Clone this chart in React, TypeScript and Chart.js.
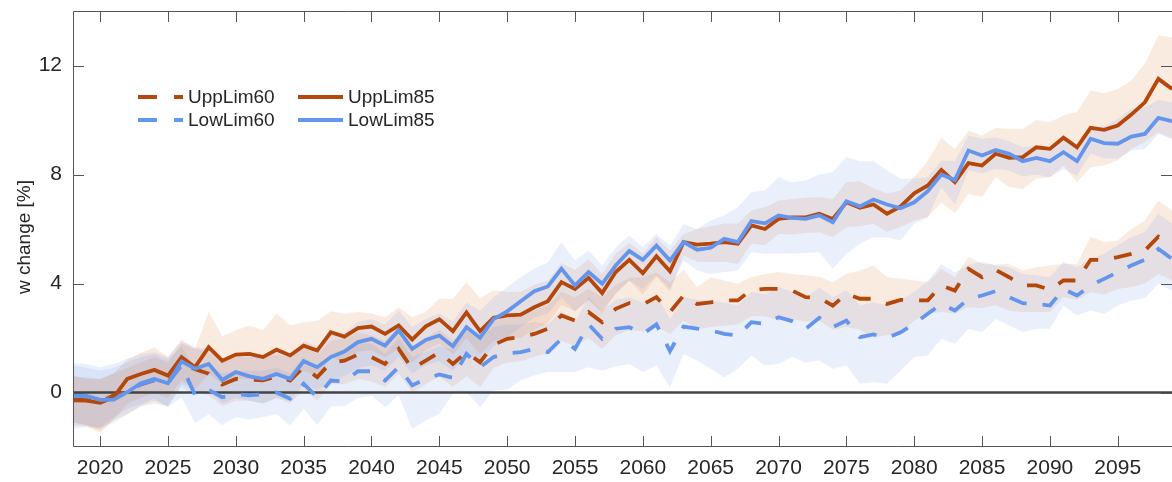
import React, { useEffect, useRef } from "react";
import { Chart, registerables } from "chart.js";

Chart.register(...registerables);

// ---------- data ----------
const years: number[] = Array.from({ length: 82 }, (_, i) => 2018 + i);
const xTickValues = [2020, 2025, 2030, 2035, 2040, 2045, 2050, 2055, 2060, 2065, 2070, 2075, 2080, 2085, 2090, 2095];
const yTickValues = [0, 4, 8, 12];

const uppLim60 = [
  -0.25, -0.28, -0.35, -0.10, 0.05, 0.30, 0.45, 0.35, 1.10, 0.85,
  0.69, 0.29, 0.50, 0.47, 0.45, 0.59, 0.44, 0.93, 0.56, 1.10,
  1.17, 1.39, 1.30, 1.05, 1.60, 0.87, 1.17, 1.48, 1.05, 1.48,
  1.11, 1.75, 1.97, 2.03, 2.15, 2.34, 2.83, 2.64, 2.95, 2.58,
  3.07, 3.28, 3.23, 3.50, 2.95, 3.56, 3.25, 3.31, 3.38, 3.38,
  3.77, 3.80, 3.80, 3.74, 3.50, 3.47, 3.19, 3.62, 3.44, 3.44,
  3.25, 3.40, 3.38, 3.38, 3.93, 3.74, 4.54, 4.23, 4.50, 4.23,
  3.93, 3.93, 3.77, 4.11, 4.11, 4.87, 4.87, 4.97, 5.09, 5.21,
  5.72, 5.48,
];
const lowLim60 = [
  -0.10, -0.15, -0.25, -0.20, 0.00, 0.30, 0.45, 0.35, 1.00, -0.10,
  0.10, -0.17, -0.07, -0.10, -0.07, 0.00, -0.23, 0.32, -0.17, 0.44,
  0.40, 0.78, 0.78, 0.44, 0.93, 0.26, 0.50, 0.66, 0.54, 1.42,
  0.93, 1.30, 1.44, 1.48, 1.60, 1.48, 1.97, 1.60, 2.50, 1.97,
  2.34, 2.40, 2.15, 2.50, 1.52, 2.42, 2.34, 2.28, 2.15, 2.09,
  2.58, 2.52, 2.76, 2.62, 2.34, 2.74, 2.40, 2.64, 2.03, 2.13,
  2.00, 2.21, 2.52, 2.89, 3.25, 3.01, 3.44, 3.56, 3.72, 3.50,
  3.28, 3.25, 3.19, 3.80, 3.56, 3.93, 4.17, 4.42, 4.66, 4.87,
  5.27, 4.90,
];
const uppLim85 = [
  -0.29, -0.30, -0.38, -0.17, 0.50, 0.68, 0.83, 0.62, 1.30, 0.93,
  1.66, 1.17, 1.39, 1.42, 1.30, 1.57, 1.36, 1.72, 1.54, 2.21,
  2.05, 2.36, 2.42, 2.15, 2.46, 1.94, 2.43, 2.69, 2.25, 2.94,
  2.25, 2.74, 2.83, 2.86, 3.13, 3.35, 4.05, 3.80, 4.21, 3.65,
  4.42, 4.87, 4.38, 5.00, 4.45, 5.52, 5.43, 5.46, 5.52, 5.46,
  6.13, 6.00, 6.37, 6.43, 6.43, 6.56, 6.37, 6.98, 6.78, 6.90,
  6.56, 6.83, 7.31, 7.60, 8.17, 7.72, 8.42, 8.33, 8.76, 8.61,
  8.64, 9.00, 8.94, 9.35, 9.00, 9.71, 9.64, 9.80, 10.20, 10.65,
  11.51, 11.14,
];
const lowLim85 = [
  -0.11, -0.12, -0.27, -0.26, 0.01, 0.34, 0.50, 0.34, 1.14, 0.87,
  1.05, 0.46, 0.75, 0.59, 0.50, 0.68, 0.50, 1.15, 0.93, 1.30,
  1.50, 1.85, 1.97, 1.72, 2.28, 1.60, 1.93, 2.09, 1.70, 2.40,
  2.01, 2.69, 2.98, 3.35, 3.72, 3.89, 4.54, 3.93, 4.42, 3.99,
  4.66, 5.19, 4.87, 5.39, 4.84, 5.52, 5.24, 5.31, 5.64, 5.52,
  6.29, 6.21, 6.50, 6.41, 6.37, 6.50, 6.25, 7.02, 6.83, 7.08,
  6.90, 6.76, 6.98, 7.39, 8.00, 7.80, 8.88, 8.70, 8.90, 8.76,
  8.49, 8.61, 8.49, 8.82, 8.49, 9.31, 9.15, 9.13, 9.39, 9.49,
  10.08, 9.96,
];

// ensemble spread bands (upper / lower edges)
const uppLim60Hi = [
  0.6, 0.55, 0.5, 0.7, 0.9, 1.1, 1.3, 1.1, 1.8, 1.6,
  1.5, 1.1, 1.3, 1.3, 1.3, 1.4, 1.3, 1.8, 1.4, 1.9,
  2.0, 2.2, 2.1, 1.9, 2.4, 1.7, 2.0, 2.3, 1.9, 2.3,
  2.0, 2.6, 2.8, 2.9, 3.0, 3.2, 3.7, 3.5, 3.8, 3.5,
  3.95, 4.2, 4.23, 4.4, 4.05, 4.5, 3.87, 4.23, 4.11, 3.99,
  4.23, 4.35, 4.42, 4.35, 4.3, 4.25, 4.05, 4.35, 4.48, 4.66,
  4.23, 4.17, 4.11, 4.05, 4.54, 4.23, 4.97, 4.72, 4.7, 4.72,
  4.48, 4.6, 4.66, 4.72, 4.72, 5.72, 5.52, 5.58, 6.0, 6.31,
  7.05, 6.68,
];
const uppLim60Lo = [
  -1.1, -1.2, -1.4, -1.0, -0.8, -0.5, -0.4, -0.5, 0.3, 0.1,
  -0.1, -0.5, -0.3, -0.3, -0.4, -0.2, -0.4, 0.1, -0.3, 0.3,
  0.3, 0.5, 0.4, 0.2, 0.7, 0.0, 0.3, 0.6, 0.2, 0.6,
  0.2, 0.9, 1.1, 1.15, 1.3, 1.45, 1.9, 1.7, 2.0, 1.6,
  2.1, 2.28, 2.25, 2.4, 2.15, 2.64, 2.3, 2.4, 2.45, 2.5,
  2.8, 2.8, 2.64, 2.7, 2.6, 2.64, 2.3, 2.4, 2.3, 2.03,
  2.1, 2.15, 2.64, 2.89, 2.95, 2.9, 3.13, 3.1, 3.2, 3.0,
  2.95, 2.95, 2.95, 3.5, 3.4, 3.68, 3.6, 3.8, 3.87, 4.0,
  4.35, 4.11,
];
const lowLim60Hi = [
  1.0, 0.9, 0.8, 0.9, 1.1, 1.3, 1.4, 1.2, 1.7, 0.9,
  1.0, 0.7, 0.8, 0.8, 0.8, 0.9, 0.7, 1.3, 0.9, 1.4,
  1.4, 1.8, 1.8, 1.4, 2.0, 1.3, 1.5, 1.7, 1.6, 2.5,
  2.0, 2.4, 2.5, 2.5, 2.6, 2.5, 3.0, 2.6, 3.5, 3.0,
  3.4, 3.5, 3.3, 3.6, 2.7, 3.5, 3.4, 3.35, 3.3, 3.2,
  3.7, 3.6, 3.87, 3.7, 3.5, 3.85, 3.5, 3.75, 3.2, 3.3,
  3.2, 3.4, 3.7, 4.1, 4.72, 4.4, 4.7, 4.8, 4.66, 4.6,
  4.35, 4.3, 4.23, 4.8, 4.6, 4.9, 5.09, 5.4, 5.7, 5.9,
  6.56, 6.19,
];
const lowLim60Lo = [
  -1.33, -1.27, -1.3, -0.9, -0.6, -0.42, -0.23, -0.54, -0.17, -1.13,
  -0.8, -1.2, -0.9, -1.0, -0.9, -0.8, -1.2, -0.6, -1.2, -0.5,
  -0.5, -0.2, -0.11, -0.54, -0.1, -1.33, -1.03, -0.78, -0.05, 0.0,
  -0.54, 0.07, 0.1, 0.44, 0.62, 0.75, 0.75, 0.75, 0.93, 0.81,
  0.95, 1.05, 0.75, 0.99, 0.17, 1.42, 1.17, 0.87, 0.56, 0.87,
  1.36, 0.99, 1.05, 1.3, 1.1, 1.17, 0.87, 1.0, 0.32, 0.38,
  0.32, 0.8, 1.3, 1.36, 1.97, 1.79, 2.34, 2.21, 2.7, 2.46,
  2.21, 2.34, 2.34, 3.19, 2.83, 3.01, 2.89, 3.19, 3.38, 3.47,
  3.99, 3.74,
];
const uppLim85Hi = [
  0.6, 0.5, 0.5, 0.7, 1.2, 1.45, 1.66, 1.3, 1.94, 1.61,
  2.95, 2.06, 2.28, 2.46, 2.28, 2.9, 2.46, 2.58, 2.63, 2.98,
  2.89, 2.95, 2.9, 2.76, 3.13, 2.76, 2.95, 3.44, 3.44, 4.05,
  3.47, 3.74, 3.7, 3.7, 3.95, 4.1, 4.75, 4.5, 4.9, 4.35,
  5.1, 5.5, 5.1, 5.7, 5.2, 5.82, 6.0, 6.1, 6.2, 6.2,
  6.68, 6.8, 7.05, 7.1, 7.15, 7.17, 7.1, 7.72, 7.75, 7.5,
  7.3, 7.41, 7.9, 8.51, 9.35, 8.94, 9.61, 9.43, 9.71, 9.68,
  9.68, 10.0, 9.92, 10.17, 10.29, 11.08, 10.98, 11.14, 11.45, 12.06,
  13.1, 13.04,
];
const uppLim85Lo = [
  -1.2, -1.25, -1.49, -1.0, -0.4, -0.2, 0.0, -0.2, 0.45, 0.1,
  0.7, 0.3, 0.5, 0.5, 0.45, 0.6, 0.45, 0.8, 0.6, 1.3,
  1.1, 1.5, 1.55, 1.3, 1.6, 1.1, 1.55, 1.8, 1.4, 2.0,
  1.4, 1.9, 2.0, 2.0, 2.3, 2.55, 3.2, 3.0, 3.4, 2.9,
  3.65, 4.1, 3.6, 4.25, 3.7, 5.03, 4.8, 4.78, 4.8, 4.72,
  5.46, 5.4, 5.82, 5.8, 5.85, 5.88, 5.7, 6.07, 6.1, 6.19,
  5.9, 6.07, 6.31, 6.43, 6.98, 6.58, 7.29, 7.17, 7.9, 7.54,
  7.47, 7.84, 7.9, 8.33, 7.72, 8.27, 8.33, 8.51, 8.94, 9.19,
  9.55, 9.31,
];
const lowLim85Hi = [
  1.08, 1.05, 0.93, 1.05, 1.24, 1.42, 1.48, 1.3, 1.88, 1.66,
  1.6, 1.2, 1.4, 1.35, 1.3, 1.45, 1.3, 1.9, 1.7, 2.1,
  2.2, 2.6, 2.7, 2.5, 3.0, 2.4, 2.7, 2.9, 2.6, 3.3,
  3.0, 3.5, 3.87, 4.23, 4.54, 4.78, 5.52, 4.84, 5.21, 4.66,
  5.33, 5.76, 5.33, 5.82, 5.39, 6.17, 6.0, 6.31, 6.5, 6.8,
  7.35, 7.41, 7.9, 7.72, 7.78, 8.0, 8.09, 8.64, 8.49, 8.49,
  8.15, 7.84, 7.85, 7.9, 8.51, 8.5, 9.43, 9.31, 9.37, 9.22,
  9.0, 9.06, 9.0, 9.37, 9.0, 9.68, 9.74, 10.04, 10.41, 10.47,
  10.74, 10.65,
];
const lowLim85Lo = [
  -1.1, -1.2, -1.3, -1.1, -0.8, -0.5, -0.3, -0.5, 0.2, -0.1,
  0.1, -0.4, -0.2, -0.3, -0.4, -0.2, -0.3, 0.3, 0.1, 0.4,
  0.6, 0.9, 1.0, 0.8, 1.3, 0.7, 1.0, 1.15, 0.8, 1.4,
  1.1, 1.7, 2.0, 2.4, 2.75, 2.9, 3.5, 2.95, 3.4, 3.0,
  3.6, 4.1, 3.8, 4.3, 3.8, 4.84, 4.48, 4.35, 4.42, 4.48,
  5.15, 5.09, 5.1, 5.1, 5.12, 5.15, 4.54, 5.09, 5.46, 5.7,
  5.7, 5.58, 6.19, 6.43, 7.54, 6.9, 8.15, 8.05, 8.2, 8.15,
  7.93, 8.0, 7.9, 8.2, 7.95, 8.76, 8.6, 8.58, 8.88, 8.94,
  9.49, 9.31,
];

// ---------- styles ----------
const ORANGE = "#B5470B";
const BLUE = "#6495ED";
const ORANGE_FILL = "rgba(222, 110, 40, 0.14)";
const BLUE_FILL = "rgba(100, 149, 237, 0.14)";
const DASH = [18, 16];
const FONT = "'Liberation Sans', Arial, Helvetica, sans-serif";
const TEXT = "#262626";
const AXIS = "#555555";

const pts = (arr: number[]) => arr.map((v, i) => ({ x: years[i], y: v }));

const lineDs = (label: string, data: number[], color: string, dashed: boolean, order: number) => ({
  label,
  data: pts(data),
  borderColor: color,
  backgroundColor: color,
  borderWidth: 3.8,
  borderDash: dashed ? DASH : [],
  borderJoinStyle: "miter" as const,
  pointRadius: 0,
  tension: 0,
  fill: false,
  order,
});

const bandDs = (hi: number[], lo: number[], fillColor: string) => [
  {
    label: "",
    data: pts(hi),
    borderWidth: 0,
    borderColor: "rgba(0,0,0,0)",
    backgroundColor: fillColor,
    pointRadius: 0,
    tension: 0,
    fill: "+1",
    order: 10,
  },
  {
    label: "",
    data: pts(lo),
    borderWidth: 0,
    borderColor: "rgba(0,0,0,0)",
    backgroundColor: "rgba(0,0,0,0)",
    pointRadius: 0,
    tension: 0,
    fill: false,
    order: 10,
  },
];

const decorPlugin = {
  id: "decor",
  beforeDatasetDraw(chart: any, args: any) {
    if (args.index !== 3) return;
    const { ctx, chartArea } = chart;
    const y0 = chart.scales.y.getPixelForValue(0);
    ctx.save();
    ctx.strokeStyle = "#444444";
    ctx.lineWidth = 2.5;
    ctx.beginPath();
    ctx.moveTo(chartArea.left, y0);
    ctx.lineTo(chartArea.right, y0);
    ctx.stroke();
    ctx.restore();
  },
  afterDraw(chart: any) {
    const { ctx, chartArea } = chart;
    const { left, right, top, bottom } = chartArea;
    const xs = chart.scales.x;
    const ys = chart.scales.y;
    ctx.save();
    ctx.strokeStyle = AXIS;
    ctx.lineWidth = 1;
    ctx.beginPath();
    ctx.rect(left + 0.5, top + 0.5, right - left, bottom - top - 1);
    ctx.stroke();
    const TL = 11;
    ctx.beginPath();
    xTickValues.forEach((v) => {
      const px = Math.round(xs.getPixelForValue(v)) + 0.5;
      ctx.moveTo(px, bottom);
      ctx.lineTo(px, bottom - TL);
      ctx.moveTo(px, top);
      ctx.lineTo(px, top + TL);
    });
    yTickValues.forEach((v) => {
      const py = Math.round(ys.getPixelForValue(v)) + 0.5;
      ctx.moveTo(left, py);
      ctx.lineTo(left + TL, py);
      ctx.moveTo(right, py);
      ctx.lineTo(right - TL, py);
    });
    ctx.stroke();

    // y-axis title
    ctx.fillStyle = TEXT;
    ctx.font = `19px ${FONT}`;
    ctx.textAlign = "center";
    ctx.textBaseline = "middle";
    ctx.save();
    ctx.translate(25, 237);
    ctx.rotate(-Math.PI / 2);
    ctx.fillText("w change [%]", 0, 0);
    ctx.restore();

    // legend (two columns)
    const ds = chart.data.datasets;
    const slots = [
      { i: 3, x: 138, y: 97 },
      { i: 2, x: 138, y: 120 },
      { i: 1, x: 298, y: 97 },
      { i: 0, x: 298, y: 120 },
    ];
    slots.forEach((s) => {
      const d = ds[s.i];
      ctx.save();
      ctx.strokeStyle = d.borderColor;
      ctx.lineWidth = 3.8;
      ctx.setLineDash(d.borderDash && d.borderDash.length ? [19, 17] : []);
      ctx.beginPath();
      ctx.moveTo(s.x, s.y);
      ctx.lineTo(s.x + 45, s.y);
      ctx.stroke();
      ctx.restore();
      ctx.fillStyle = TEXT;
      ctx.font = `19px ${FONT}`;
      ctx.textAlign = "left";
      ctx.textBaseline = "middle";
      ctx.fillText(d.label, s.x + 50, s.y + 1);
    });
    ctx.restore();
  },
};

export default function App() {
  const canvasRef = useRef<HTMLCanvasElement | null>(null);

  useEffect(() => {
    if (!canvasRef.current) return;
    Chart.defaults.font.family = FONT;
    const chart = new Chart(canvasRef.current, {
      type: "line",
      data: {
        datasets: [
          lineDs("LowLim85", lowLim85, BLUE, false, 0),
          lineDs("UppLim85", uppLim85, ORANGE, false, 1),
          lineDs("LowLim60", lowLim60, BLUE, true, 2),
          lineDs("UppLim60", uppLim60, ORANGE, true, 3),
          ...bandDs(lowLim85Hi, lowLim85Lo, BLUE_FILL),
          ...bandDs(uppLim85Hi, uppLim85Lo, ORANGE_FILL),
          ...bandDs(lowLim60Hi, lowLim60Lo, BLUE_FILL),
          ...bandDs(uppLim60Hi, uppLim60Lo, ORANGE_FILL),
        ] as any,
      },
      options: {
        animation: false,
        responsive: true,
        maintainAspectRatio: false,
        layout: { padding: { top: 11, right: 0, left: 0, bottom: 0 } },
        plugins: {
          legend: { display: false },
          tooltip: { enabled: false },
          filler: { propagate: false },
        },
        scales: {
          x: {
            type: "linear",
            min: 2018,
            max: 2099,
            grid: { display: false, drawTicks: false },
            border: { display: false },
            afterBuildTicks: (s: any) => {
              s.ticks = xTickValues.map((v) => ({ value: v }));
            },
            afterFit: (s: any) => {
              s.height = 35;
              s.paddingLeft = 0;
              s.paddingRight = 0;
            },
            ticks: {
              autoSkip: false,
              maxRotation: 0,
              padding: 9,
              color: TEXT,
              font: { size: 21, family: FONT },
              callback: (v: any) => String(v),
            },
          },
          y: {
            type: "linear",
            min: -2,
            max: 14,
            grid: { display: false, drawTicks: false },
            border: { display: false },
            afterBuildTicks: (s: any) => {
              s.ticks = yTickValues.map((v) => ({ value: v }));
            },
            afterFit: (s: any) => {
              s.width = 73;
              s.paddingTop = 0;
              s.paddingBottom = 0;
            },
            ticks: {
              padding: 11,
              color: TEXT,
              font: { size: 21, family: FONT },
              callback: (v: any) => String(v),
            },
          },
        },
      },
      plugins: [decorPlugin],
    });
    return () => chart.destroy();
  }, []);

  return (
    <div style={{ position: "absolute", left: 0, top: 0, width: 1172, height: 482, background: "#fff" }}>
      <canvas ref={canvasRef} />
    </div>
  );
}
